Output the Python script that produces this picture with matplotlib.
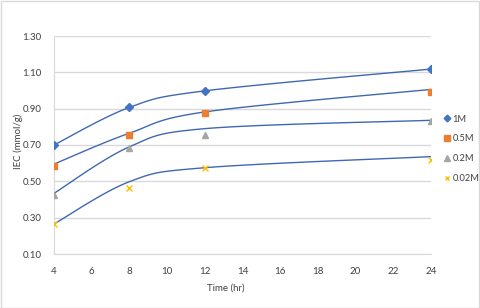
import numpy as np
import matplotlib
matplotlib.use("Agg")
import matplotlib.pyplot as plt
from matplotlib.lines import Line2D
from matplotlib.patches import Rectangle

plt.rcParams['font.family'] = ['Lato', 'DejaVu Sans']

# Data
time_hr = [4, 8, 12, 24]
series_labels = ["1M", "0.5M", "0.2M", "0.02M"]
iec_1M = [0.70, 0.907, 1.00, 1.118]
iec_05M = [0.586, 0.755, 0.875, 0.993]
iec_02M = [0.425, 0.684, 0.753, 0.833]
iec_002M = [0.265, 0.462, 0.573, 0.618]
# fitted (model) curve values at the same times
fit_1M = [0.70, 0.907, 0.998, 1.118]
fit_05M = [0.595, 0.765, 0.882, 1.006]
fit_02M = [0.434, 0.690, 0.790, 0.836]
fit_002M = [0.265, 0.498, 0.575, 0.636]
x_ticks = [4, 6, 8, 10, 12, 14, 16, 18, 20, 22, 24]
y_ticks = [0.10, 0.30, 0.50, 0.70, 0.90, 1.10, 1.30]

W, H = 480, 308
FS = 7
TXT = '#404040'
fig = plt.figure(figsize=(W / 100, H / 100), dpi=100)
fig.patches.append(Rectangle((0.5 / W, 0.5 / H), 1 - 1.5 / W, 1 - 1.5 / H,
                             transform=fig.transFigure, fill=False,
                             edgecolor='#D9D9D9', linewidth=1.0))

ax = fig.add_axes([54 / W, 1 - 254 / H, (431 - 54) / W, (254 - 36) / H])


def smooth(xs, ys, n=30):
    """Excel-like smoothed line (Catmull-Rom Bezier)."""
    P = np.column_stack([xs, ys]).astype(float)
    out = []
    for i in range(len(P) - 1):
        p0 = P[i - 1] if i > 0 else P[i]
        p1, p2 = P[i], P[i + 1]
        p3 = P[i + 2] if i + 2 < len(P) else P[i + 1]
        c1 = p1 + (p2 - p0) / 6
        c2 = p2 - (p3 - p1) / 6
        t = np.linspace(0, 1, n)[:, None]
        seg = ((1 - t) ** 3) * p1 + 3 * ((1 - t) ** 2) * t * c1 + 3 * (1 - t) * t ** 2 * c2 + t ** 3 * p2
        out.append(seg if i == 0 else seg[1:])
    s = np.vstack(out)
    return s[:, 0], s[:, 1]


line_color = '#4068B2'
for fit in [fit_1M, fit_05M, fit_02M, fit_002M]:
    sx, sy = smooth(time_hr, fit)
    ax.plot(sx, sy, color=line_color, lw=1.0, zorder=3)

styles = [
    dict(marker='D', color='#4472C4', ms=4.0),
    dict(marker='s', color='#ED7D31', ms=5.0),
    dict(marker='^', color='#A5A5A5', ms=5.0),
    dict(marker='x', color='#FFC000', ms=4.0),
]
handles = []
for vals, st, lab in zip([iec_1M, iec_05M, iec_02M, iec_002M], styles, series_labels):
    ax.plot(time_hr, vals, linestyle='none', marker=st['marker'], color=st['color'],
            ms=st['ms'], mew=1.0, zorder=4)
    handles.append(Line2D([], [], linestyle='none', marker=st['marker'], color=st['color'],
                          ms=st['ms'] * 0.85, mew=1.0, label=lab))

ax.set_xlim(4, 24)
ax.set_ylim(0.10, 1.30)
ax.set_xticks(x_ticks)
ax.set_yticks(y_ticks)
ax.set_yticklabels([f"{v:.2f}" for v in y_ticks])
ax.grid(axis='y', color='#D9D9D9', lw=1.0)
ax.set_axisbelow(True)
for s in ['top', 'right']:
    ax.spines[s].set_visible(False)
ax.spines['left'].set_color('#D9D9D9')
ax.spines['bottom'].set_color('#D9D9D9')
ax.tick_params(axis='both', length=0, labelsize=FS, colors=TXT)
ax.tick_params(axis='y', pad=9)
ax.tick_params(axis='x', pad=9)

fig.text(226 / W, 1 - 288 / H, "Time (hr)", fontsize=FS, color=TXT,
         ha='center', va='center')
fig.text(18 / W, 1 - 141 / H, "IEC (mmol/g)", fontsize=FS, color=TXT,
         ha='center', va='center', rotation=90)

fig.legend(handles=handles, loc='upper left', bbox_to_anchor=(439 / W, 1 - 110 / H),
           frameon=False, fontsize=6.7, handlelength=0.8, handletextpad=0.15,
           labelspacing=1.15, borderpad=0, labelcolor=TXT)

fig.savefig("out.png", dpi=100, facecolor='white')
